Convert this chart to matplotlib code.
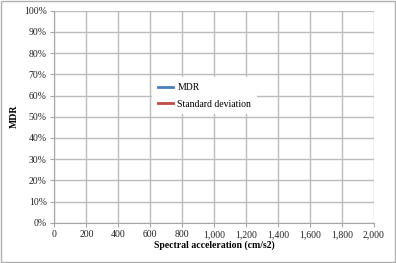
import matplotlib
matplotlib.use("Agg")
import matplotlib.pyplot as plt
from matplotlib.ticker import FuncFormatter
from matplotlib.patches import Rectangle

# chart has no plotted data, only the legend entries
spectral_acc = []
mdr = []
std_dev = []
series_names = ["MDR", "Standard deviation"]
x_ticks = [0, 200, 400, 600, 800, 1000, 1200, 1400, 1600, 1800, 2000]
y_ticks = [0, 0.1, 0.2, 0.3, 0.4, 0.5, 0.6, 0.7, 0.8, 0.9, 1.0]

plt.rcParams['font.family'] = ['Liberation Serif', 'DejaVu Serif']

fig = plt.figure(figsize=(3.96, 2.63), dpi=100)
ax = fig.add_axes([0.1376, 0.1532, 0.8068, 0.8061])

ax.plot(spectral_acc, mdr, color='#4a7ebb', lw=2, label=series_names[0])
ax.plot(spectral_acc, std_dev, color='#be4b48', lw=2, label=series_names[1])

ax.set_xlim(0, 2000)
ax.set_ylim(0, 1)
ax.set_xticks(x_ticks)
ax.set_yticks(y_ticks)
ax.xaxis.set_major_formatter(FuncFormatter(lambda v, p: f"{int(v):,}"))
ax.yaxis.set_major_formatter(FuncFormatter(lambda v, p: f"{v*100:.0f}%"))

ax.grid(True, color='#bcbcbc', lw=1)
ax.set_axisbelow(True)
for s in ['top', 'right']:
    ax.spines[s].set_visible(False)
for s in ['left', 'bottom']:
    ax.spines[s].set_color('#a6a6a6')
ax.tick_params(labelsize=7, colors='#a6a6a6', labelcolor='#222222', length=3, width=0.8, pad=2.5)

ax.set_xlabel("Spectral acceleration (cm/s2)", fontsize=7, fontweight='bold')
ax.set_ylabel("MDR", fontsize=7, fontweight='bold')
ax.xaxis.set_label_coords(0.5, -0.082)
ax.yaxis.set_label_coords(-0.112, 0.5)

leg = ax.legend(loc='upper left', bbox_to_anchor=(0.29, 0.708), fontsize=7,
                frameon=True, fancybox=False, framealpha=1, edgecolor='none',
                handlelength=1.6, handletextpad=0.4, labelspacing=0.75, borderpad=0.6)

fig.patches.append(Rectangle((0.002, 0.003), 0.996, 0.994, transform=fig.transFigure,
                             fill=False, edgecolor='#b0b0b0', lw=1))

fig.savefig("out.png", dpi=100)
